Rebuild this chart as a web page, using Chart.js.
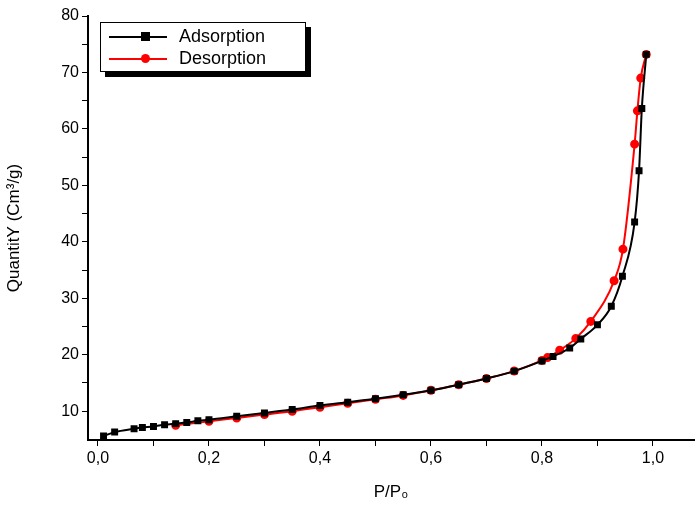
<!DOCTYPE html>
<html>
<head>
<meta charset="utf-8">
<script src="https://cdn.jsdelivr.net/npm/chart.js@4"></script>
<style>
body { margin: 0; background: #fff; }
#wrap { position: relative; width: 700px; height: 507px; }
#legend { position: absolute; left: 100px; top: 22px; width: 204px; height: 48px; border: 1px solid #000; background: #fff;
  box-shadow: 5px 5px 0 #000; font: 18px Arial, "Liberation Sans", sans-serif; }
#legend div { position: relative; height: 22px; line-height: 22px; padding-left: 78px; }
#legend span { position: absolute; left: 8px; top: 11px; width: 58px; height: 2px; }
#legend i { position: absolute; left: 32px; top: -4px; width: 9px; height: 9px; }
</style>
</head>
<body>
<div id="wrap">
<canvas id="chart" width="700" height="507"></canvas>
<div id="legend">
  <div style="margin-top:2px"><span style="background:#000"><i style="background:#000"></i></span>Adsorption</div>
  <div><span style="background:#f00"><i style="background:#f00;border-radius:50%"></i></span>Desorption</div>
</div>
</div>
<script>
const adsX = [0.01, 0.03, 0.065, 0.08, 0.1, 0.12, 0.14, 0.16, 0.18, 0.2, 0.25, 0.3, 0.35, 0.4, 0.45, 0.5, 0.55, 0.6, 0.65, 0.7, 0.75, 0.8, 0.82, 0.85, 0.87, 0.9, 0.925, 0.945, 0.967, 0.975, 0.98, 0.988]
const adsY = [5.6, 6.3, 6.9, 7.1, 7.3, 7.6, 7.8, 8.0, 8.3, 8.5, 9.1, 9.7, 10.3, 11.0, 11.6, 12.2, 12.9, 13.7, 14.7, 15.8, 17.1, 18.9, 19.7, 21.2, 22.8, 25.3, 28.6, 33.9, 43.5, 52.6, 63.6, 73.2]
const desX = [0.14, 0.2, 0.25, 0.3, 0.35, 0.4, 0.45, 0.5, 0.55, 0.6, 0.65, 0.7, 0.75, 0.8, 0.81, 0.832, 0.861, 0.888, 0.93, 0.946, 0.967, 0.972, 0.978, 0.988]
const desY = [7.5, 8.2, 8.8, 9.4, 10.0, 10.7, 11.4, 12.1, 12.8, 13.7, 14.7, 15.8, 17.1, 19.0, 19.5, 20.8, 22.9, 25.9, 33.1, 38.7, 57.3, 63.2, 69.0, 73.2]
const xTicks = [0, 0.1, 0.2, 0.3, 0.4, 0.5, 0.6, 0.7, 0.8, 0.9, 1.0]
const yTicks = [10, 15, 20, 25, 30, 35, 40, 45, 50, 55, 60, 65, 70, 75, 80]

const pts = (xs, ys) => xs.map((x, i) => ({ x: x, y: ys[i] }))
const font = { family: 'Arial, "Liberation Sans", sans-serif', size: 16 }

new Chart(document.getElementById('chart'), {
    type: 'scatter',
    data: {
        datasets: [
            { label: 'Adsorption', data: pts(adsX, adsY), showLine: true, borderColor: '#000', backgroundColor: '#000',
              borderWidth: 2, pointStyle: 'rect', pointRadius: 3.5, cubicInterpolationMode: 'monotone' },
            { label: 'Desorption', data: pts(desX, desY), showLine: true, borderColor: '#f00', backgroundColor: '#f00',
              borderWidth: 2, pointStyle: 'circle', pointRadius: 3.5, cubicInterpolationMode: 'monotone' }
        ]
    },
    options: {
        responsive: false,
        animation: false,
        layout: { padding: { top: 16, right: 0, left: 0, bottom: 0 } },
        plugins: { legend: { display: false }, tooltip: { enabled: false } },
        scales: {
            x: {
                type: 'linear', min: -0.018, max: 1.074,
                afterBuildTicks: s => { s.ticks = xTicks.map(v => ({ value: v })) },
                afterFit: s => { s.height = 67 },
                grid: { display: true, drawOnChartArea: false, tickLength: 6, color: '#000' },
                border: { color: '#000', width: 2 },
                ticks: { color: '#000', font: font, maxRotation: 0, autoSkip: false,
                    callback: v => (Math.round(v * 10) % 2 === 0) ? v.toFixed(1).replace('.', ',') : '' },
                title: { display: true, text: 'P/P\u2080', color: '#000', font: { family: font.family, size: 17 }, padding: { top: 6 } }
            },
            y: {
                min: 4.9, max: 80,
                afterBuildTicks: s => { s.ticks = yTicks.map(v => ({ value: v })) },
                afterFit: s => { s.width = 88 },
                grid: { display: true, drawOnChartArea: false, tickLength: 6, color: '#000' },
                border: { color: '#000', width: 2 },
                ticks: { color: '#000', font: font, autoSkip: false, callback: v => v % 10 === 0 ? v : '' },
                title: { display: true, text: 'QuantitY (Cm\u00b3/g)', color: '#000', font: { family: font.family, size: 17 } }
            }
        }
    }
});
</script>
</body>
</html>
